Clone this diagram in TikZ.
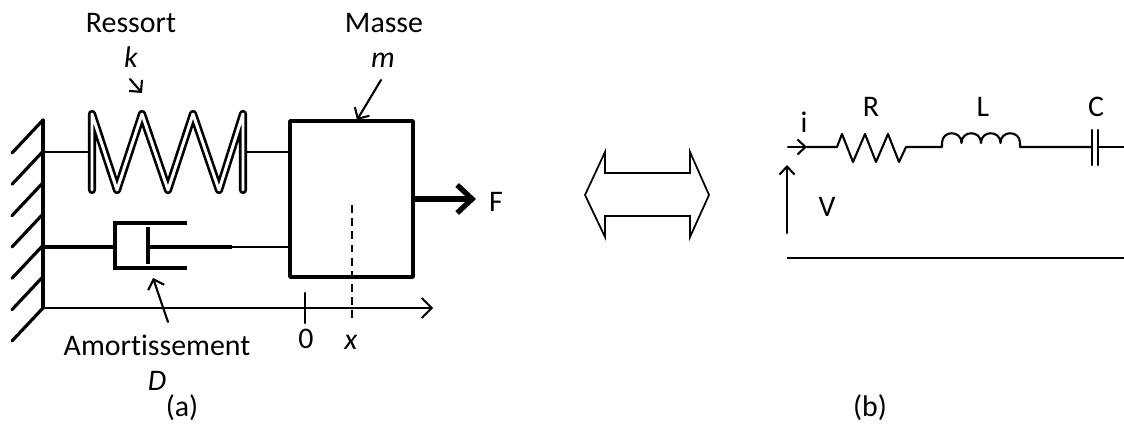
\documentclass[tikz,border=0pt]{standalone}
\usepackage{fontspec}
\setmainfont{Carlito}[Ligatures=CommonOff]
\usetikzlibrary{arrows.meta}
\tikzset{
	lbl/.style={anchor=base,inner sep=0pt},
	barb/.style={line width=1.2pt,-{Straight Barb[length=1.7mm,width=3.4mm]}},
	thick line/.style={line width=2.4pt,line cap=rect,line join=miter},
	wire/.style={line width=1.2pt}
}
\begin{document}
\begin{tikzpicture}[x=0.02cm,y=-0.02cm,line cap=round,line join=round,font=\fontsize{17}{20}\selectfont]
	\useasboundingbox (0,0) rectangle (1124,425);
	% (a) wall
	\draw[line width=1.8pt] (43,120) coordinate (wt) -- (43,308) coordinate (wb);
	\foreach \i in {0,...,6} \draw[line width=1.8pt] (43,120+31.33*\i) -- ++(-31,33);
	% mass
	\node[draw,line width=2pt,minimum width=2.46cm,minimum height=3.12cm,inner sep=0pt] (mass) at (351.5,199) {};
	% spring
	\coordinate (s0) at (43,152);
	\coordinate (s1) at (243,152);
	\draw[line width=1.1pt] (s0) -- (92,152);
	\draw[line width=1.7pt] (s1) -- (s1 -| mass.west);
	\draw[line width=1.5pt,double=white,double distance=1.7pt] (92,190) -- (92,114) -- (117,190) -- (142,114) -- (168,190) -- (193,114) -- (219,190) -- (243,114) -- (243,190);
	% damper
	\coordinate (d0) at (43,247);
	\coordinate (d1) at (230,247);
	\draw[thick line] (d0) -- (115,247);
	\draw[thick line] (185,223) -- (115,223) -- (115,268) -- (185,268);
	\draw[thick line] (148,229) -- (148,262);
	\draw[thick line] (148,247) -- (d1);
	\draw[line width=1.5pt] (d1) -- (d1 -| mass.west);
	% axis
	\draw[line width=1.1pt,-{Straight Barb[length=2mm,width=4mm]}] (wb) -- (433,308);
	\draw[line width=1.2pt] (305,293) -- (305,323);
	\draw[line width=1.1pt,dash pattern=on 4.5pt off 3pt,line cap=butt] (352,205) -- (352,318);
	\node[lbl] (zero) at (306,348) {0};
	\node[lbl] (xpos) at (351,349) {\textit{x}};
	% force
	\coordinate (ftip) at (476,199);
	\draw[line width=3pt,-{Straight Barb[length=3mm,width=5.6mm]}] (mass.east) -- (ftip);
	\node[lbl] (force) at (496,212) {F};
	% labels
	\node[lbl] (ressort) at (131,33) {Ressort};
	\node[lbl] (kl) at (131,68) {\textit{k}};
	\node[lbl] (masse) at (384,33) {Masse};
	\node[lbl] (ml) at (383,68) {\textit{m}};
	\node[lbl] (amort) at (157,355) {Amortissement};
	\node[lbl] (dl) at (157,390) {\textit{D}};
	\node[lbl] (capa) at (182,416) {(a)};
	\coordinate (k0) at (130,79);  \coordinate (k1) at (142,93);
	\coordinate (m0) at (381,80);  \coordinate (m1) at (357,120);
	\coordinate (a0) at (168,322); \coordinate (a1) at (153,278);
	\draw[barb] (k0) -- (k1);
	\draw[barb] (m0) -- (m1);
	\draw[barb] (a0) -- (a1);
	% double arrow
	\draw[line width=1pt,line join=miter] (585,195) -- (605,152) -- (605,173) -- (690,173) -- (690,152) -- (709,195) -- (690,237) -- (690,216) -- (605,216) -- (605,237) -- cycle;
	% (b) circuit
	\coordinate (i0) at (788,147);
	\coordinate (i1) at (807,147);
	\draw[wire,-{Straight Barb[length=1.6mm,width=3mm]}] (i0) -- (i1);
	\draw[wire] (i1) -- (837,147) -- (842,134) -- (853,162) -- (865,134) -- (876,162) -- (888,134) -- (899,162) -- (906,147) -- (942,147) -- (942,143)
		.. controls (942,130) and (961.5,130) .. (961.5,143)
		.. controls (961.5,130) and (981,130) .. (981,143)
		.. controls (981,130) and (1000.5,130) .. (1000.5,143)
		.. controls (1000.5,130) and (1020,130) .. (1020,143) -- (1020,147) -- (1092,147);
	\draw[wire] (1092,130) -- (1092,165);
	\draw[wire] (1098,130) -- (1098,165);
	\draw[wire] (1098,147) -- (1124,147);
	\coordinate (v0) at (787,233);
	\coordinate (v1) at (787,165);
	\draw[wire,-{Straight Barb[length=1.6mm,width=3mm]}] (v0) -- (v1);
	\draw[line width=1.5pt,line cap=butt] (787,258) -- (1124,258);
	\node[lbl] (il) at (804,133) {i};
	\node[lbl] (rl) at (871,117) {R};
	\node[lbl] (ll) at (983,117) {L};
	\node[lbl] (cl) at (1096,117) {C};
	\node[lbl] (vl) at (827,217) {V};
	\node[lbl] (capb) at (870,416) {(b)};
\end{tikzpicture}
\end{document}
